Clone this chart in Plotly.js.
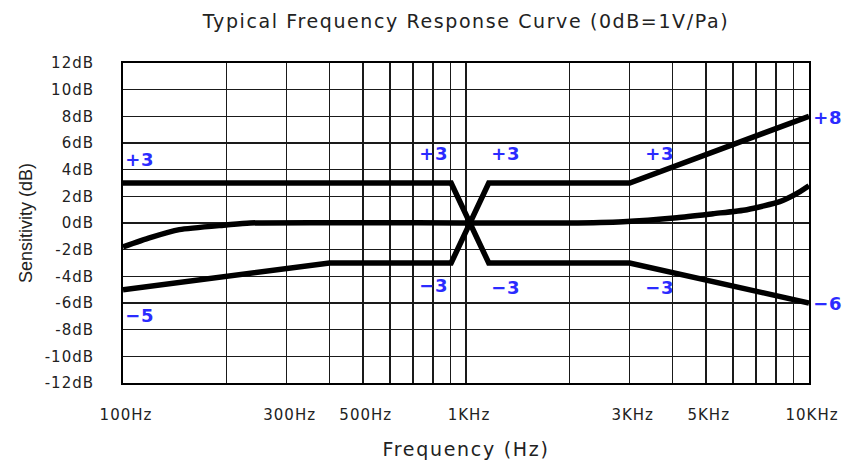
<!DOCTYPE html>
<html>
<head>
<meta charset="utf-8">
<script src="https://cdn.plot.ly/plotly-3.0.1.min.js"></script>
<style>
html,body{margin:0;padding:0;background:#fff;}
#chart{width:843px;height:467px;}
#chart text.gtitle{letter-spacing:1.6px;}
#chart text.xtitle{letter-spacing:1.7px;}
#chart .xtick text, #chart .ytick text{letter-spacing:1px;}
#chart .annotation-text{letter-spacing:0.8px;}
</style>
</head>
<body>
<div id="chart"></div>
<script>
// Limit line A: upper limit on the left, crossing at 1 kHz, lower limit on the right
const limitAFreq = [100, 905, 1165, 3000, 10000];
const limitADb   = [3, 3, -3, -3, -6];
// Limit line B: lower limit on the left, crossing at 1 kHz, upper limit on the right
const limitBFreq = [100, 400, 905, 1165, 3000, 10000];
const limitBDb   = [-5, -3, -3, 3, 3, 8];
// Typical response curve
const typFreq = [100, 120, 146, 200, 235, 1000, 2000, 2870, 4120, 5250, 6590, 8220, 9200, 10000];
const typDb   = [-1.8, -1.1, -0.5, -0.15, 0, 0, 0, 0.1, 0.4, 0.7, 1.0, 1.6, 2.2, 2.8];

// Grid / tick positions
const gridFreq = [100,200,300,400,500,600,700,800,900,1000,2000,3000,4000,5000,6000,7000,8000,9000,10000];
const labelFreq = {100:"100Hz",300:"300Hz",500:"500Hz",1000:"1KHz",3000:"3KHz",5000:"5KHz",10000:"10KHz"};
const yTicks = [-12,-10,-8,-6,-4,-2,0,2,4,6,8,10,12];

// Limit labels
const markText = ["+3","\u22125","+3","\u22123","+3","\u22123","+3","\u22123","+8","\u22126"];
const markFreq = [101, 101, 897, 897, 1175, 1175, 3300, 3300, 10000, 10000];
const markDb   = [4.8, -6.9, 5.2, -4.7, 5.25, -4.8, 5.25, -4.8, 7.9, -6.0];
const markAnchor = ["left","left","right","right","left","left","left","left","left","left"];
const markShift  = [0, 0, 0, 0, 0, 0, 0, 0, 3, 3];

const lineStyle = {color:"#000", width:5.5};
const traces = [
  {x: limitAFreq, y: limitADb, mode:"lines", line: lineStyle, hoverinfo:"skip", cliponaxis:false},
  {x: limitBFreq, y: limitBDb, mode:"lines", line: lineStyle, hoverinfo:"skip", cliponaxis:false},
  {x: typFreq, y: typDb, mode:"lines", line: Object.assign({}, lineStyle, {shape:"spline", smoothing:0.6}), hoverinfo:"skip"}
];

const annotations = markText.map((t,i)=>({
  x: Math.log10(markFreq[i]), y: markDb[i], xref:"x", yref:"y", xshift: markShift[i],
  text: t, showarrow:false, xanchor: markAnchor[i], yanchor:"middle",
  font:{family:"DejaVu Sans, Arial, sans-serif", size:18, color:"#2b2bff", weight:"bold"}
}));

const layout = {
  width:843, height:467,
  margin:{l:123, r:34, t:63, b:84},
  paper_bgcolor:"#fff", plot_bgcolor:"#fff",
  showlegend:false,
  title:{text:"Typical Frequency Response Curve (0dB=1V/Pa)", x:0.5, xref:"paper", y:1-21/467, yref:"container", yanchor:"middle",
         font:{family:"DejaVu Sans, Arial, sans-serif", size:19, color:"#222"}},
  xaxis:{
    type:"log", range:[2,4], fixedrange:true,
    tickmode:"array", tickvals:gridFreq, ticktext:gridFreq.map(f=>labelFreq[f]||""),
    showgrid:true, gridcolor:"#1a1a1a", gridwidth:1.5,
    showline:true, linecolor:"#000", linewidth:2, mirror:true,
    ticks:"", ticklabelstandoff:17, ticklabelshift:3, ticklabeloverflow:"allow",
    tickfont:{family:"DejaVu Sans, Arial, sans-serif", size:15, color:"#222"},
    zeroline:false,
    title:{text:"Frequency (Hz)", standoff:20, font:{family:"DejaVu Sans, Arial, sans-serif", size:19, color:"#222"}}
  },
  yaxis:{
    range:[-12,12], fixedrange:true,
    tickmode:"array", tickvals:yTicks, ticktext:yTicks.map(v=>v+"dB"),
    showgrid:true, gridcolor:"#1a1a1a", gridwidth:1.5,
    showline:true, linecolor:"#000", linewidth:2, mirror:true,
    ticks:"", ticklabelstandoff:24,
    tickfont:{family:"DejaVu Sans, Arial, sans-serif", size:15, color:"#222"},
    zeroline:false,
    title:{text:"Sensitivity (dB)", standoff:12, font:{family:"Liberation Sans, Arial, sans-serif", size:18, color:"#222"}}
  },
  annotations: annotations
};

Plotly.newPlot("chart", traces, layout, {staticPlot:true, displayModeBar:false});
</script>
</body>
</html>
